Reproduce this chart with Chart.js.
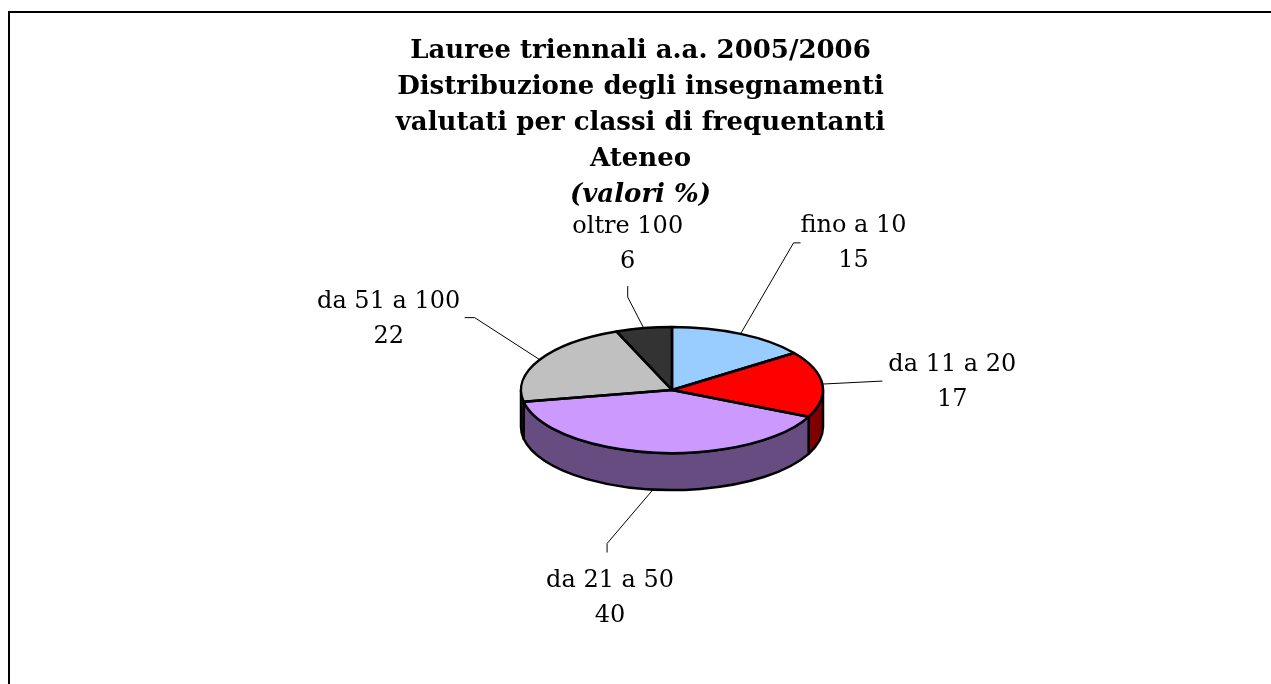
<!DOCTYPE html>
<html>
<head>
<meta charset="utf-8">
<script src="https://cdn.jsdelivr.net/npm/chart.js@4/dist/chart.umd.min.js"></script>
<style>
  body { margin: 0; background: #fff; }
  #wrap { position: absolute; left: 0; top: 0; width: 1271px; height: 684px; }
</style>
</head>
<body>
<div id="wrap"><canvas id="myChart" width="1271" height="684"></canvas></div>
<script>
// dati del grafico
const titleLines = [
  "Lauree triennali a.a. 2005/2006",
  "Distribuzione degli insegnamenti",
  "valutati per classi di frequentanti",
  "Ateneo",
];
const subtitleText = "(valori %)";
const categories = ["fino a 10", "da 11 a 20", "da 21 a 50", "da 51 a 100", "oltre 100"];
const values = [15, 17, 40, 22, 6];

// colori (faccia superiore e lato)
const topColors = ["#99CCFF", "#FF0000", "#CC99FF", "#C0C0C0", "#333333"];
const sideColors = ["#4C6680", "#800000", "#664C80", "#606060", "#1A1A1A"];

// geometria della torta 3d
const CX = 672;
const CY = 390;
const RADIUS = 151;
const TILT = 63 / 151;
const DEPTH = 37;

// posizione etichette rispetto al punto di aggancio: gomito, fine linea, testo
const labelLayout = [
  { bend: [53, -91], end: [60, -91], text: [113, -108] },
  { bend: [60, -3], end: [60, -3], text: [130, -19] },
  { bend: [-46, 54], end: [-46, 63], text: [-43, 91] },
  { bend: [-65, -42], end: [-75, -42], text: [-151, -58] },
  { bend: [-16, -31], end: [-16, -42], text: [-16, -101] },
];

const serif = '"DejaVu Serif", serif';

const frame = {
  id: "frame",
  beforeDraw(chart) {
    const ctx = chart.ctx;
    ctx.save();
    ctx.fillStyle = "#000";
    ctx.fillRect(8, 11, 1263, 2);
    ctx.fillRect(8, 11, 2, 673);
    ctx.restore();
  },
};

const pie3d = {
  id: "pie3d",
  beforeDatasetsDraw(chart) {
    const ctx = chart.ctx;
    const arcs = chart.getDatasetMeta(0).data;
    const rx = arcs[0].outerRadius;
    const ry = rx * TILT;
    // lati visibili (metà anteriore)
    arcs.forEach((arc, i) => {
      const a1 = Math.max(arc.startAngle, 0);
      const a2 = Math.min(arc.endAngle, Math.PI);
      if (a2 <= a1) return;
      ctx.beginPath();
      ctx.ellipse(CX, CY, rx, ry, 0, a1, a2);
      ctx.ellipse(CX, CY + DEPTH, rx, ry, 0, a2, a1, true);
      ctx.closePath();
      ctx.fillStyle = sideColors[i];
      ctx.fill();
      ctx.lineWidth = 2.5;
      ctx.strokeStyle = "#000";
      ctx.lineJoin = "round";
      ctx.stroke();
    });
    ctx.save();
    ctx.translate(CX, CY);
    ctx.scale(1, TILT);
    ctx.translate(-arcs[0].x, -arcs[0].y);
  },
  afterDatasetsDraw(chart) {
    const ctx = chart.ctx;
    ctx.restore();
    const arcs = chart.getDatasetMeta(0).data;
    const rx = arcs[0].outerRadius;
    const ry = rx * TILT;
    ctx.save();
    ctx.lineWidth = 2.5;
    ctx.strokeStyle = "#000";
    ctx.lineJoin = "round";
    arcs.forEach((arc) => {
      ctx.beginPath();
      ctx.moveTo(CX, CY);
      ctx.ellipse(CX, CY, rx, ry, 0, arc.startAngle, arc.endAngle);
      ctx.closePath();
      ctx.stroke();
    });
    ctx.restore();
  },
  afterDraw(chart) {
    const ctx = chart.ctx;
    const arcs = chart.getDatasetMeta(0).data;
    const rx = arcs[0].outerRadius;
    const ry = rx * TILT;
    ctx.save();
    ctx.font = "24px " + serif;
    ctx.fillStyle = "#000";
    ctx.textAlign = "center";
    ctx.textBaseline = "middle";
    arcs.forEach((arc, i) => {
      const mid = (arc.startAngle + arc.endAngle) / 2;
      let ax = CX + rx * Math.cos(mid);
      let ay = CY + ry * Math.sin(mid);
      if (Math.sin(mid) > 0.7) ay += DEPTH;
      const lay = labelLayout[i];
      ctx.beginPath();
      ctx.moveTo(ax, ay);
      ctx.lineTo(ax + lay.bend[0], ay + lay.bend[1]);
      ctx.lineTo(ax + lay.end[0], ay + lay.end[1]);
      ctx.lineWidth = 1;
      ctx.strokeStyle = "#000";
      ctx.stroke();
      const tx = ax + lay.text[0];
      const ty = ay + lay.text[1];
      ctx.fillText(categories[i], tx, ty);
      ctx.fillText(String(values[i]), tx, ty + 35);
    });
    ctx.restore();
  },
};

const ctx = document.getElementById("myChart").getContext("2d");
const myChart = new Chart(ctx, {
  type: "pie",
  data: {
    labels: categories,
    datasets: [
      {
        data: values,
        backgroundColor: topColors,
        borderWidth: 0,
        clip: false,
      },
    ],
  },
  options: {
    responsive: false,
    animation: false,
    events: [],
    radius: RADIUS,
    layout: { padding: { left: 10 } },
    plugins: {
      legend: { display: false },
      tooltip: { enabled: false },
      title: {
        display: true,
        text: titleLines,
        color: "#000",
        font: { family: serif, size: 26, weight: "bold", lineHeight: 36 / 26 },
        padding: { top: 33, bottom: 0 },
      },
      subtitle: {
        display: true,
        text: subtitleText,
        color: "#000",
        font: { family: serif, size: 26, weight: "bold", style: "italic", lineHeight: 36 / 26 },
        padding: { top: 0, bottom: 0 },
      },
    },
  },
  plugins: [frame, pie3d],
});
</script>
</body>
</html>
